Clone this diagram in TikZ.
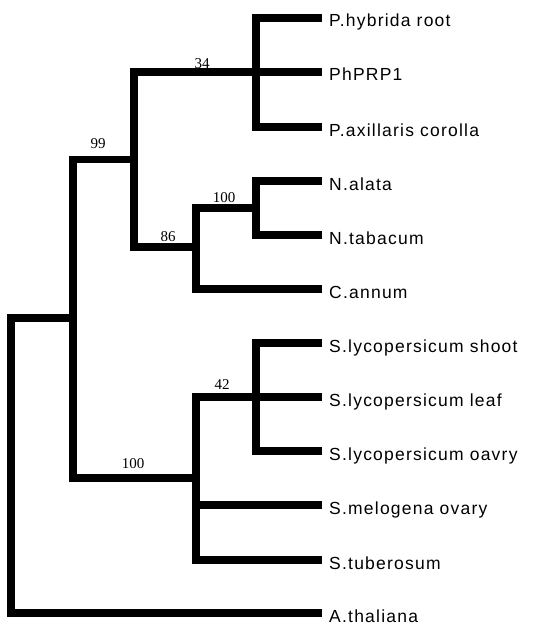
\documentclass[tikz,border=0pt]{standalone}
\usepackage{fontspec}
\newfontfamily\leaffont[LetterSpace=7]{Liberation Sans}
\newfontfamily\numfont{Liberation Serif}
\begin{document}
\begin{tikzpicture}[x=1pt,y=-1pt,
  branch/.style={line width=7.5pt,line join=miter,line cap=butt},
  leaf/.style={anchor=base west,inner sep=0pt,font=\leaffont\fontsize{17.5}{19}\selectfont},
  boot/.style={anchor=base,inner sep=0pt,font=\numfont\fontsize{15}{16}\selectfont}]
\useasboundingbox (0,0) rectangle (546,626);
% leaf ends
\coordinate (e1) at (322,18);
\coordinate (e2) at (322,72);
\coordinate (e3) at (322,127);
\coordinate (e4) at (322,181);
\coordinate (e5) at (322,235);
\coordinate (e6) at (322,289);
\coordinate (e7) at (322,343);
\coordinate (e8) at (322,397);
\coordinate (e9) at (322,451);
\coordinate (e10) at (322,505);
\coordinate (e11) at (322,560);
\coordinate (e12) at (322,613);
% internal nodes
\coordinate (nR) at (11,318);
\coordinate (nA) at (73,318);
\coordinate (nB) at (134,159.5);
\coordinate (nP) at (256,72);
\coordinate (nC) at (196,247);
\coordinate (nN) at (256,208);
\coordinate (nS) at (196,478);
\coordinate (nL) at (256,397);
% leaf labels
\node[leaf] (t1) at (329,27) {P.hybrida root};
\node[leaf] (t2) at (329,81) {PhPRP1};
\node[leaf] (t3) at (329,136) {P.axillaris corolla};
\node[leaf] (t4) at (329,190) {N.alata};
\node[leaf] (t5) at (329,244) {N.tabacum};
\node[leaf] (t6) at (329,298) {C.annum};
\node[leaf] (t7) at (329,352) {S.lycopersicum shoot};
\node[leaf] (t8) at (329,406) {S.lycopersicum leaf};
\node[leaf] (t9) at (329,460) {S.lycopersicum oavry};
\node[leaf] (t10) at (329,514) {S.melogena ovary};
\node[leaf] (t11) at (329,569) {S.tuberosum};
\node[leaf] (t12) at (329,622) {A.thaliana};
% branches
\draw[branch] (e1) -| (nP) |- (e3);
\draw[branch] (nP) -- (e2);
\draw[branch] (e4) -| (nN) |- (e5);
\draw[branch] (nN) -| (nC) |- (e6);
\draw[branch] (nP) -| (nB) |- (nC);
\draw[branch] (e7) -| (nL) |- (e9);
\draw[branch] (nL) -- (e8);
\draw[branch] (nL) -| (nS) |- (e11);
\draw[branch] (nS) |- (e10);
\draw[branch] (nB) -| (nA) |- (nS);
\draw[branch] (nA) -- (nR) |- (e12);
% bootstrap values
\node[boot] (b34) at (202,68) {34};
\node[boot] (b99) at (98,148) {99};
\node[boot] (b86) at (168,241) {86};
\node[boot] (b100a) at (224,202) {100};
\node[boot] (b42) at (222,389) {42};
\node[boot] (b100b) at (133,468) {100};
\end{tikzpicture}
\end{document}
